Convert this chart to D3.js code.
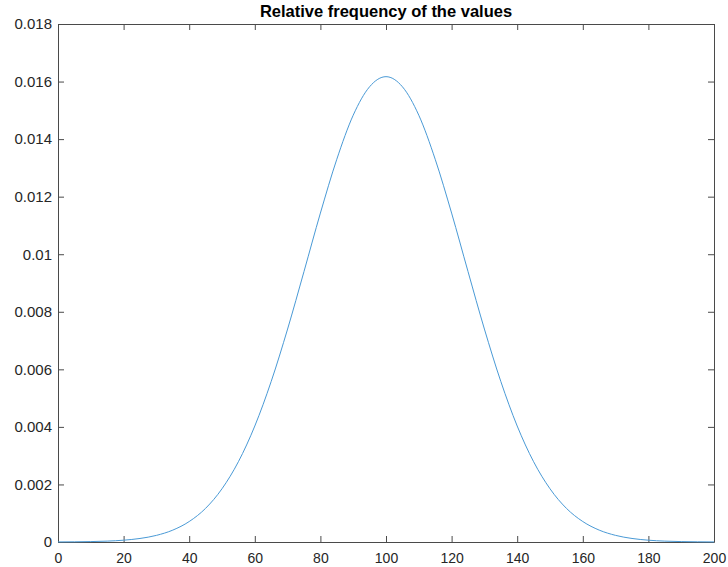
<!DOCTYPE html>
<html>
<head>
<meta charset="utf-8">
<script src="https://cdn.jsdelivr.net/npm/d3@7"></script>
<style>
  body { margin: 0; background: #fff; }
  .axis text { font-family: "Liberation Sans", Arial, sans-serif; font-size: 14px; fill: #262626; }
  .y.axis text { font-size: 15px; }
  .axis path, .axis line { stroke: #4a4a4a; }
  .title { font-family: "Liberation Sans", Arial, sans-serif; font-size: 16.5px; font-weight: bold; fill: #000; }
</style>
</head>
<body>
<div id="chart"></div>
<script>
// values
var xValues = [0, 5, 10, 15, 20, 25, 30, 35, 40, 45, 50, 55, 60, 65, 70, 75, 80, 85, 90, 95,
               100, 105, 110, 115, 120, 125, 130, 135, 140, 145, 150, 155, 160, 165, 170, 175, 180, 185, 190, 195, 200];
var freqValues = [0.0000027, 0.0000064, 0.0000143, 0.0000306, 0.0000626, 0.000123, 0.000230, 0.000413, 0.000711, 0.00117,
                  0.00185, 0.00279, 0.00403, 0.00558, 0.00740, 0.00940, 0.01143, 0.01330, 0.01483, 0.01582,
                  0.01617,
                  0.01582, 0.01483, 0.01330, 0.01143, 0.00940, 0.00740, 0.00558, 0.00403, 0.00279, 0.00185,
                  0.00117, 0.000711, 0.000413, 0.000230, 0.000123, 0.0000626, 0.0000306, 0.0000143, 0.0000064, 0.0000027];
var xTicks = [0, 20, 40, 60, 80, 100, 120, 140, 160, 180, 200];
var yTicks = [0, 0.002, 0.004, 0.006, 0.008, 0.01, 0.012, 0.014, 0.016, 0.018];
var titleText = "Relative frequency of the values";

var margin = {top: 24, right: 14, bottom: 25, left: 58},
    width = 728 - margin.left - margin.right,
    height = 567 - margin.top - margin.bottom;

var data = xValues.map(function(x, i) { return {x: x, y: freqValues[i]}; });

var x = d3.scaleLinear().domain([0, 200]).range([0, width]);
var y = d3.scaleLinear().domain([0, 0.018]).range([height, 0]);

var svg = d3.select("#chart").append("svg")
    .attr("width", 728)
    .attr("height", 567)
  .append("g")
    .attr("transform", "translate(" + margin.left + "," + margin.top + ")");

var fmt = function(d) { return d3.format("")(+d.toFixed(3)); };

// bottom and left axes, ticks pointing inward
svg.append("g")
    .attr("class", "x axis")
    .attr("transform", "translate(0," + height + ")")
    .call(d3.axisBottom(x).tickValues(xTicks).tickSizeInner(-6).tickSizeOuter(0).tickPadding(11))
    .call(function(g) { g.selectAll("text").attr("dy", "0.71em"); });

svg.append("g")
    .attr("class", "y axis")
    .call(d3.axisLeft(y).tickValues(yTicks).tickFormat(fmt).tickSizeInner(-6).tickSizeOuter(0).tickPadding(6));

// top and right mirror ticks
svg.append("g")
    .attr("class", "axis")
    .call(d3.axisTop(x).tickValues(xTicks).tickSizeInner(-6).tickSizeOuter(0).tickFormat(""));

svg.append("g")
    .attr("class", "axis")
    .attr("transform", "translate(" + width + ",0)")
    .call(d3.axisRight(y).tickValues(yTicks).tickSizeInner(-6).tickSizeOuter(0).tickFormat(""));

// curve
var line = d3.line()
    .curve(d3.curveMonotoneX)
    .x(function(d) { return x(d.x); })
    .y(function(d) { return y(d.y); });

svg.append("path")
    .datum(data)
    .attr("fill", "none")
    .attr("stroke", "#4a9ad6")
    .attr("stroke-width", 1)
    .attr("d", line);

svg.append("text")
    .attr("class", "title")
    .attr("x", width / 2)
    .attr("y", -7)
    .attr("text-anchor", "middle")
    .text(titleText);
</script>
</body>
</html>
